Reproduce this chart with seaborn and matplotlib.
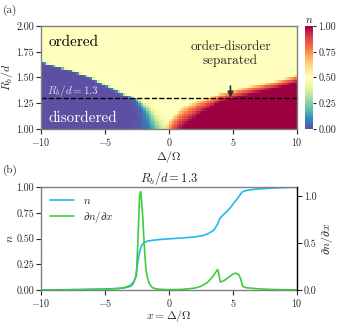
import matplotlib
matplotlib.use("Agg")
import matplotlib.pyplot as plt
import numpy as np
import seaborn as sns

# ---- phase diagram (a): boundaries ----
# disordered -> ordered transition (centre and width in Delta) vs R_b/d
dis_R = [1.00, 1.05, 1.17, 1.29, 1.34, 1.42, 1.50, 1.56, 1.61, 1.66, 1.67]
dis_delta = [-0.9, -1.1, -1.6, -2.5, -3.6, -4.9, -6.2, -7.5, -8.9, -10.2, -30.0]
dis_width = [0.45, 0.40, 0.25, 0.12, 0.10, 0.09, 0.08, 0.08, 0.08, 0.08, 0.08]

# ordered -> n=1 band: dark red edge and orange/yellow edge vs Delta
band_delta = [-0.3, 0.0, 1.0, 2.3, 4.1, 6.5, 8.5, 10.0]
red_R = [0.85, 0.92, 1.01, 1.14, 1.27, 1.34, 1.40, 1.45]
top_R = [1.00, 1.08, 1.21, 1.28, 1.35, 1.42, 1.47, 1.52]

# ---- cut at R_b/d = 1.3 (b) ----
n_delta = [-10, -8, -6, -5, -4, -3.5, -3.0, -2.8, -2.6, -2.45, -2.3, -2.15, -2.0, -1.7,
           -1.0, 0.0, 1.0, 2.0, 2.7, 3.1, 3.5, 3.8, 4.0, 4.2, 4.5, 4.8, 5.1, 5.3, 5.5,
           5.7, 5.9, 6.3, 7.0, 8.0, 9.0, 10.0]
n_vals = [0.0, 0.003, 0.007, 0.01, 0.015, 0.02, 0.035, 0.06, 0.13, 0.26, 0.37, 0.43, 0.455, 0.475,
          0.487, 0.497, 0.505, 0.515, 0.53, 0.55, 0.58, 0.64, 0.70, 0.725, 0.76, 0.80, 0.85, 0.88, 0.915,
          0.95, 0.962, 0.972, 0.981, 0.989, 0.994, 0.997]

dn_delta = [-10, -7, -5, -4, -3.5, -3.0, -2.75, -2.55, -2.42, -2.3, -2.22, -2.15, -2.05, -1.92,
            -1.8, -1.67, -1.5, -1.3, -1.0, -0.5, 0.0, 1.0, 2.0, 2.5, 3.0, 3.4, 3.65, 3.8,
            3.88, 4.0, 4.3, 4.7, 5.0, 5.2, 5.45, 5.6, 5.75, 6.0, 7.0, 8.0, 9.0, 10.0]
dn_vals = [0.0, 0.003, 0.008, 0.015, 0.025, 0.05, 0.09, 0.15, 0.55, 1.0, 1.05, 0.97, 0.78, 0.45,
           0.22, 0.12, 0.06, 0.025, 0.012, 0.006, 0.004, 0.006, 0.02, 0.04, 0.08, 0.14, 0.19, 0.22,
           0.18, 0.085, 0.10, 0.14, 0.17, 0.18, 0.165, 0.12, 0.04, 0.025, 0.012, 0.006, 0.003, 0.002]

nx, ny = 100, 40
dx, dy = 20.0 / nx, 1.0 / ny
delta_c = -10 + dx * (np.arange(nx) + 0.5)
R_c = 1 + dy * (np.arange(ny) + 0.5)
D, R = np.meshgrid(delta_c, R_c)

mid = np.interp(R, dis_R, dis_delta)
wid = np.interp(R, dis_R, dis_width)
s1 = 1.0 / (1.0 + np.exp(-(D - mid) / wid))
rr = np.interp(D, band_delta, red_R)
rt = np.interp(D, band_delta, top_R)
f = np.clip((rt - R) / (rt - rr), 0, 1) ** 0.6
n_grid = s1 * (0.5 + 0.5 * f)

sns.set_style("ticks")
plt.rcParams["font.family"] = "serif"
plt.rcParams["font.serif"] = ["cmr10"]
plt.rcParams["mathtext.fontset"] = "cm"
plt.rcParams["axes.formatter.use_mathtext"] = True
plt.rcParams["font.size"] = 7.2

TICK = dict(labelsize=7.2, length=3.5, width=0.8, pad=1.5)
GRAY = "#808080"

fig = plt.figure(figsize=(3.37, 3.23), dpi=100)
W, H = 337.0, 323.0
ax1 = fig.add_axes([41 / W, 1 - 129 / H, 256 / W, 103 / H])
cax = fig.add_axes([305 / W, 1 - 129 / H, 8 / W, 103 / H])
ax2 = fig.add_axes([41 / W, 1 - 290 / H, 256 / W, 103 / H])

sns.heatmap(n_grid, ax=ax1, cmap="Spectral_r", vmin=0, vmax=1, cbar_ax=cax,
            xticklabels=False, yticklabels=False)
ax1.invert_yaxis()

def xi(d):
    return (d + 10) / dx

def yi(r):
    return (r - 1) / dy

ax1.set_xticks([xi(v) for v in [-10, -5, 0, 5, 10]])
ax1.set_xticklabels([r"$-10$", r"$-5$", r"$0$", r"$5$", r"$10$"])
ax1.set_yticks([yi(v) for v in [1.0, 1.25, 1.5, 1.75, 2.0]])
ax1.set_yticklabels(["1.00", "1.25", "1.50", "1.75", "2.00"], rotation=0)
ax1.tick_params(axis="both", bottom=True, left=True, **TICK)
for s in ax1.spines.values():
    s.set_visible(True)
    s.set_color(GRAY)
    s.set_linewidth(1.0)
ax1.set_xlabel(r"$\Delta/\Omega$", fontsize=8.5, labelpad=0.5)
ax1.set_ylabel(r"$R_b/d$", fontsize=8.5, labelpad=1)
ax1.axhline(yi(1.3), color="k", ls="--", lw=1.0)
ax1.text(xi(-9.4), yi(1.84), "ordered", fontsize=11, color="k", va="center")
ax1.text(xi(-9.4), yi(1.11), "disordered", fontsize=11, color="white", va="center")
ax1.text(xi(-9.5), yi(1.37), r"$R_b/d = 1.3$", fontsize=8, color="#dddddd", va="center")
ax1.annotate("order-disorder\nseparated", xy=(xi(4.8), yi(1.305)), xytext=(xi(4.8), yi(1.725)),
             ha="center", va="center", fontsize=9.5, linespacing=1.15,
             arrowprops=dict(arrowstyle="-|>", color="#333333", lw=1.2, shrinkA=11, shrinkB=0,
                             mutation_scale=8))

cax.set_yticks([0, 0.25, 0.5, 0.75, 1.0])
cax.set_yticklabels(["0.00", "0.25", "0.50", "0.75", "1.00"])
cax.tick_params(labelsize=7.2, length=2.5, width=0.8, pad=1.5)
cax.set_title(r"$n$", fontsize=8, pad=2)

sns.lineplot(x=n_delta, y=n_vals, ax=ax2, color="#22b8f0", lw=1.2, label=r"$n$")
ax3 = ax2.twinx()
sns.lineplot(x=dn_delta, y=dn_vals, ax=ax3, color="#3fcc3f", lw=1.2, label=r"$\partial n/\partial x$")
h1, l1 = ax2.get_legend_handles_labels()
h2, l2 = ax3.get_legend_handles_labels()
ax3.get_legend().remove()
ax2.legend(h1 + h2, l1 + l2, loc="upper left", frameon=False, fontsize=8,
           handlelength=2.2, borderaxespad=0.4, labelspacing=0.3)

ax2.set_xlim(-10, 10)
ax2.set_ylim(0, 1)
ax3.set_ylim(0, 1.1)
ax2.set_xticks([-10, -5, 0, 5, 10])
ax2.set_yticks([0, 0.25, 0.5, 0.75, 1.0])
ax2.set_yticklabels(["0.00", "0.25", "0.50", "0.75", "1.00"])
ax3.set_yticks([0, 0.5, 1.0])
ax3.set_yticklabels(["0.0", "0.5", "1.0"])
for a in (ax2, ax3):
    a.tick_params(**TICK)
for s in ax2.spines.values():
    s.set_color(GRAY)
    s.set_linewidth(1.0)
for k in ("left", "top", "bottom"):
    ax3.spines[k].set_visible(False)
ax3.spines["right"].set_color("k")
ax3.spines["right"].set_linewidth(0.9)
ax2.set_xlabel(r"$x = \Delta/\Omega$", fontsize=8.5, labelpad=-0.5)
ax2.set_ylabel(r"$n$", fontsize=8.5, labelpad=1)
ax3.set_ylabel(r"$\partial n/\partial x$", fontsize=8.5, labelpad=2)
ax2.set_title(r"$R_b/d = 1.3$", fontsize=9, pad=3)

fig.text(3 / W, 1 - 10 / H, "(a)", fontsize=8, va="center")
fig.text(3 / W, 1 - 170 / H, "(b)", fontsize=8, va="center")

fig.savefig("out.png", dpi=100)
